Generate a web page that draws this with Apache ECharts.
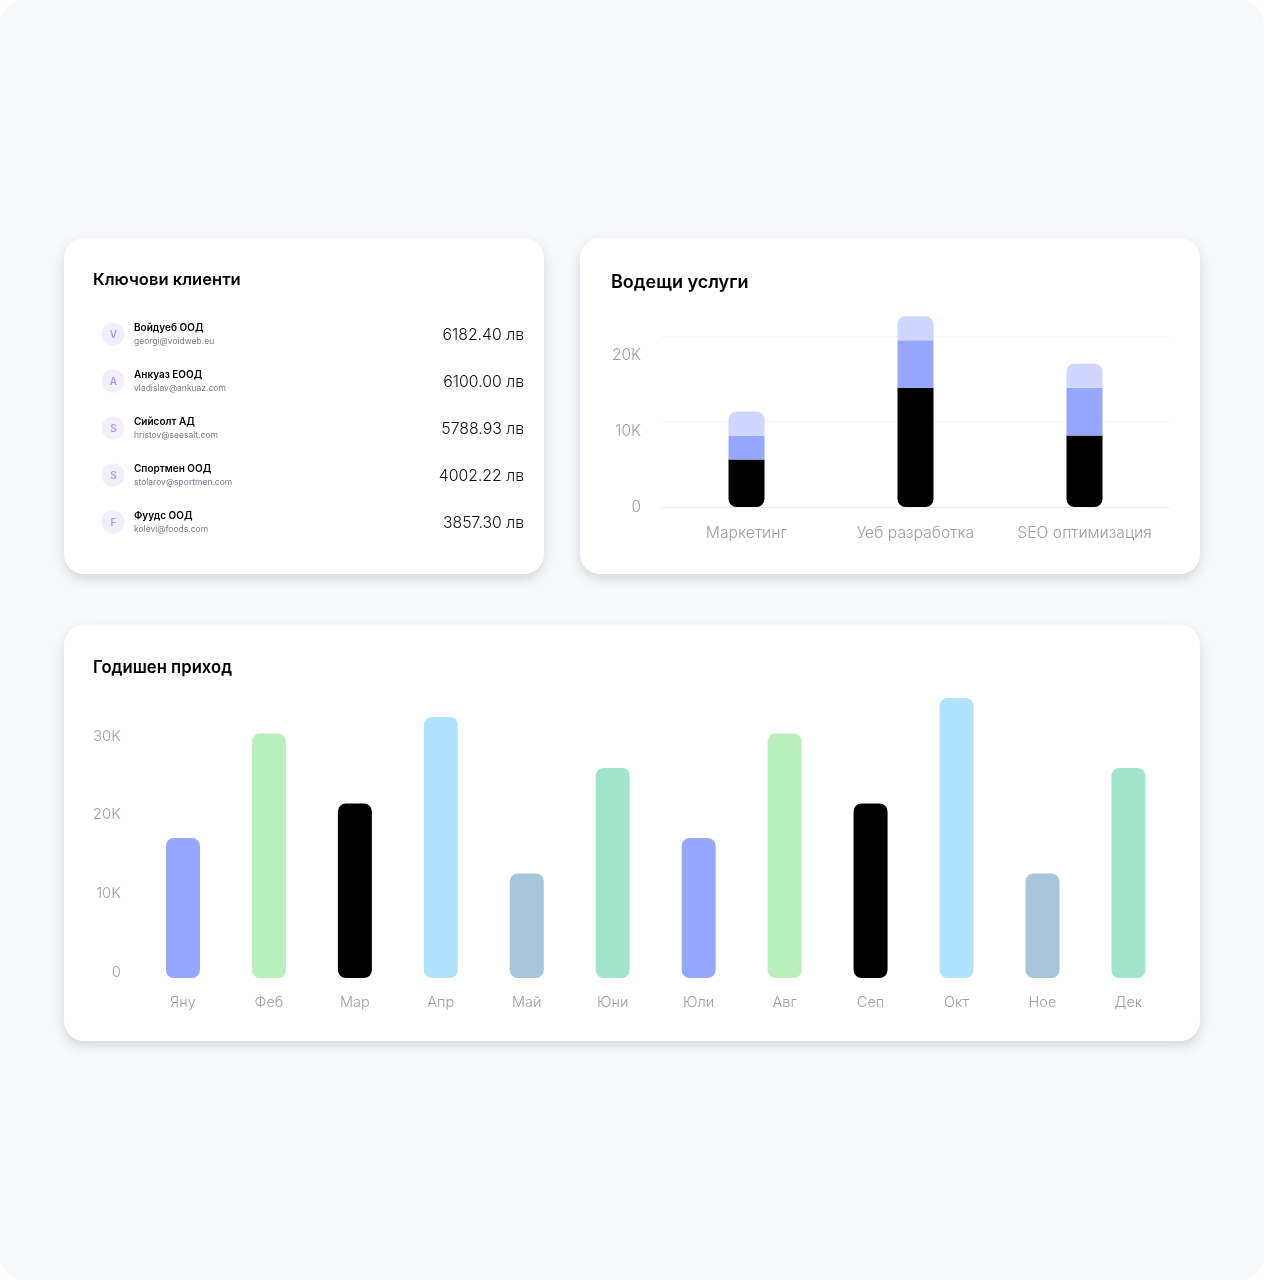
<!DOCTYPE html>
<html><head><meta charset="utf-8">
<style>html,body{margin:0;padding:0;background:#fff}#c{width:1264px;height:1280px}</style>
<script src="https://cdn.jsdelivr.net/npm/echarts@6/dist/echarts.min.js"></script></head>
<body><div id="c"></div>
<script>
const clientInitials = ['V','A','S','S','F'];
const clientNames = ['Войдуеб ООД','Анкуаз ЕООД','Сийсолт АД','Спортмен ООД','Фуудс ООД'];
const clientEmails = ['georgi@voidweb.eu','vladislav@ankuaz.com','hristov@seesalt.com','stolarov@sportmen.com','kolevi@foods.com'];
const clientAmounts = ['6182.40 лв','6100.00 лв','5788.93 лв','4002.22 лв','3857.30 лв'];

const serviceCategories = ['Маркетинг','Уеб разработка','SEO оптимизация'];
const serviceBase = [6250, 15650, 9400];
const serviceMiddle = [3150, 6300, 6300];
const serviceTop = [3150, 3150, 3150];

const months = ['Яну','Феб','Мар','Апр','Май','Юни','Юли','Авг','Сеп','Окт','Ное','Дек'];
const monthlyIncome = [17800,31100,22200,33200,13300,26700,17800,31100,22200,35600,13300,26700];
const monthColors = ['#97a6fe','#bbefbe','#000000','#b1e3ff','#a8c5da','#a1e3cb','#97a6fe','#bbefbe','#000000','#b1e3ff','#a8c5da','#a1e3cb'];

const F = 'Inter, sans-serif';
const fmtK = v => v === 0 ? '0' : (v / 1000) + 'K';
const card = (x, y, w, h) => ({
  type: 'rect', z: 0, silent: true,
  shape: { x, y, width: w, height: h, r: 20 },
  style: { fill: '#fff', shadowBlur: 12, shadowOffsetY: 5, shadowColor: 'rgba(30,40,60,0.17)' }
});
const text = (x, y, t, font, fill, align) => ({
  type: 'text', z: 2, silent: true, x, y,
  style: { text: t, font, fill, align: align || 'left', verticalAlign: 'middle' }
});

const graphics = [
  { type: 'rect', z: 0, silent: true, shape: { x: 0, y: 0, width: 1264, height: 1280, r: 24 }, style: { fill: '#f8f9fb' } },
  card(64, 238, 480, 336), card(580, 238, 620, 336), card(64, 625, 1136, 416),
  text(93, 280, 'Ключови клиенти', `600 16.6px ${F}`, '#000'),
  text(611, 283, 'Водещи услуги', `600 18px ${F}`, '#000'),
  text(93, 667.5, 'Годишен приход', `600 16.7px ${F}`, '#000')
];
clientNames.forEach((name, i) => {
  const cy = 334 + i * 47;
  graphics.push(
    { type: 'circle', z: 1, silent: true, shape: { cx: 113, cy, r: 11.5 }, style: { fill: '#f1effd' } },
    text(113.5, cy + 0.5, clientInitials[i], `600 10px ${F}`, '#b199f7', 'center'),
    text(134, cy - 6, name, `600 10px ${F}`, '#000'),
    text(134, cy + 7.5, clientEmails[i], `400 8.5px ${F}`, '#767c8a'),
    text(524, cy + 1.3, clientAmounts[i], `300 15.8px ${F}`, '#111', 'right')
  );
});

const topR = [8, 8, 0, 0], botR = [0, 0, 8, 8];
const axisText = { color: '#a0a0a0', fontFamily: F, fontWeight: 300 };

const option = {
  animation: false,
  textStyle: { fontFamily: F },
  graphic: { elements: graphics },
  grid: [
    { left: 662, width: 507, top: 309.4, height: 197.6 },
    { left: 140, width: 1031.4, top: 687, height: 291 }
  ],
  xAxis: [
    { type: 'category', gridIndex: 0, data: serviceCategories,
      axisLine: { lineStyle: { color: '#ececec', width: 1 } }, axisTick: { show: false },
      axisLabel: { ...axisText, fontSize: 15.7, margin: 18.5, interval: 0, hideOverlap: false } },
    { type: 'category', gridIndex: 1, data: months,
      axisLine: { show: false }, axisTick: { show: false },
      axisLabel: { ...axisText, fontSize: 14.5, margin: 17.5, interval: 0, hideOverlap: false } }
  ],
  yAxis: [
    { type: 'value', gridIndex: 0, position: 'left', min: 0, max: 26000, interval: 10000,
      splitLine: { show: false }, axisLine: { show: false }, axisTick: { show: false },
      axisLabel: { ...axisText, fontSize: 15.5, margin: 21, padding: [0, 0, 2, 0], showMaxLabel: false, formatter: fmtK } },
    { type: 'value', gridIndex: 0, position: 'left', min: 0, max: 23138, interval: 10000,
      axisLine: { show: false }, axisTick: { show: false }, axisLabel: { show: false },
      splitLine: { show: true, showMinLine: false, showMaxLine: false, lineStyle: { color: '#f5f5f6', width: 1 } } },
    { type: 'value', gridIndex: 1, position: 'left', min: 0, max: 37000, interval: 10000,
      splitLine: { show: false }, axisLine: { show: false }, axisTick: { show: false },
      axisLabel: { ...axisText, fontSize: 15, margin: 19, verticalAlign: 'bottom', lineHeight: 12, showMaxLabel: false, formatter: fmtK } }
  ],
  series: [
    { type: 'bar', xAxisIndex: 0, yAxisIndex: 0, stack: 's', barWidth: 36, data: serviceBase, itemStyle: { color: '#000', borderRadius: botR } },
    { type: 'bar', xAxisIndex: 0, yAxisIndex: 0, stack: 's', barWidth: 36, data: serviceMiddle, itemStyle: { color: '#97a6fe' } },
    { type: 'bar', xAxisIndex: 0, yAxisIndex: 0, stack: 's', barWidth: 36, data: serviceTop, itemStyle: { color: '#d0d7fe', borderRadius: topR } },
    { type: 'bar', xAxisIndex: 1, yAxisIndex: 2, barWidth: 34,
      data: monthlyIncome.map((v, i) => ({ value: v, itemStyle: { color: monthColors[i], borderRadius: 8 } })) }
  ]
};
echarts.init(document.getElementById('c')).setOption(option);
</script></body></html>
